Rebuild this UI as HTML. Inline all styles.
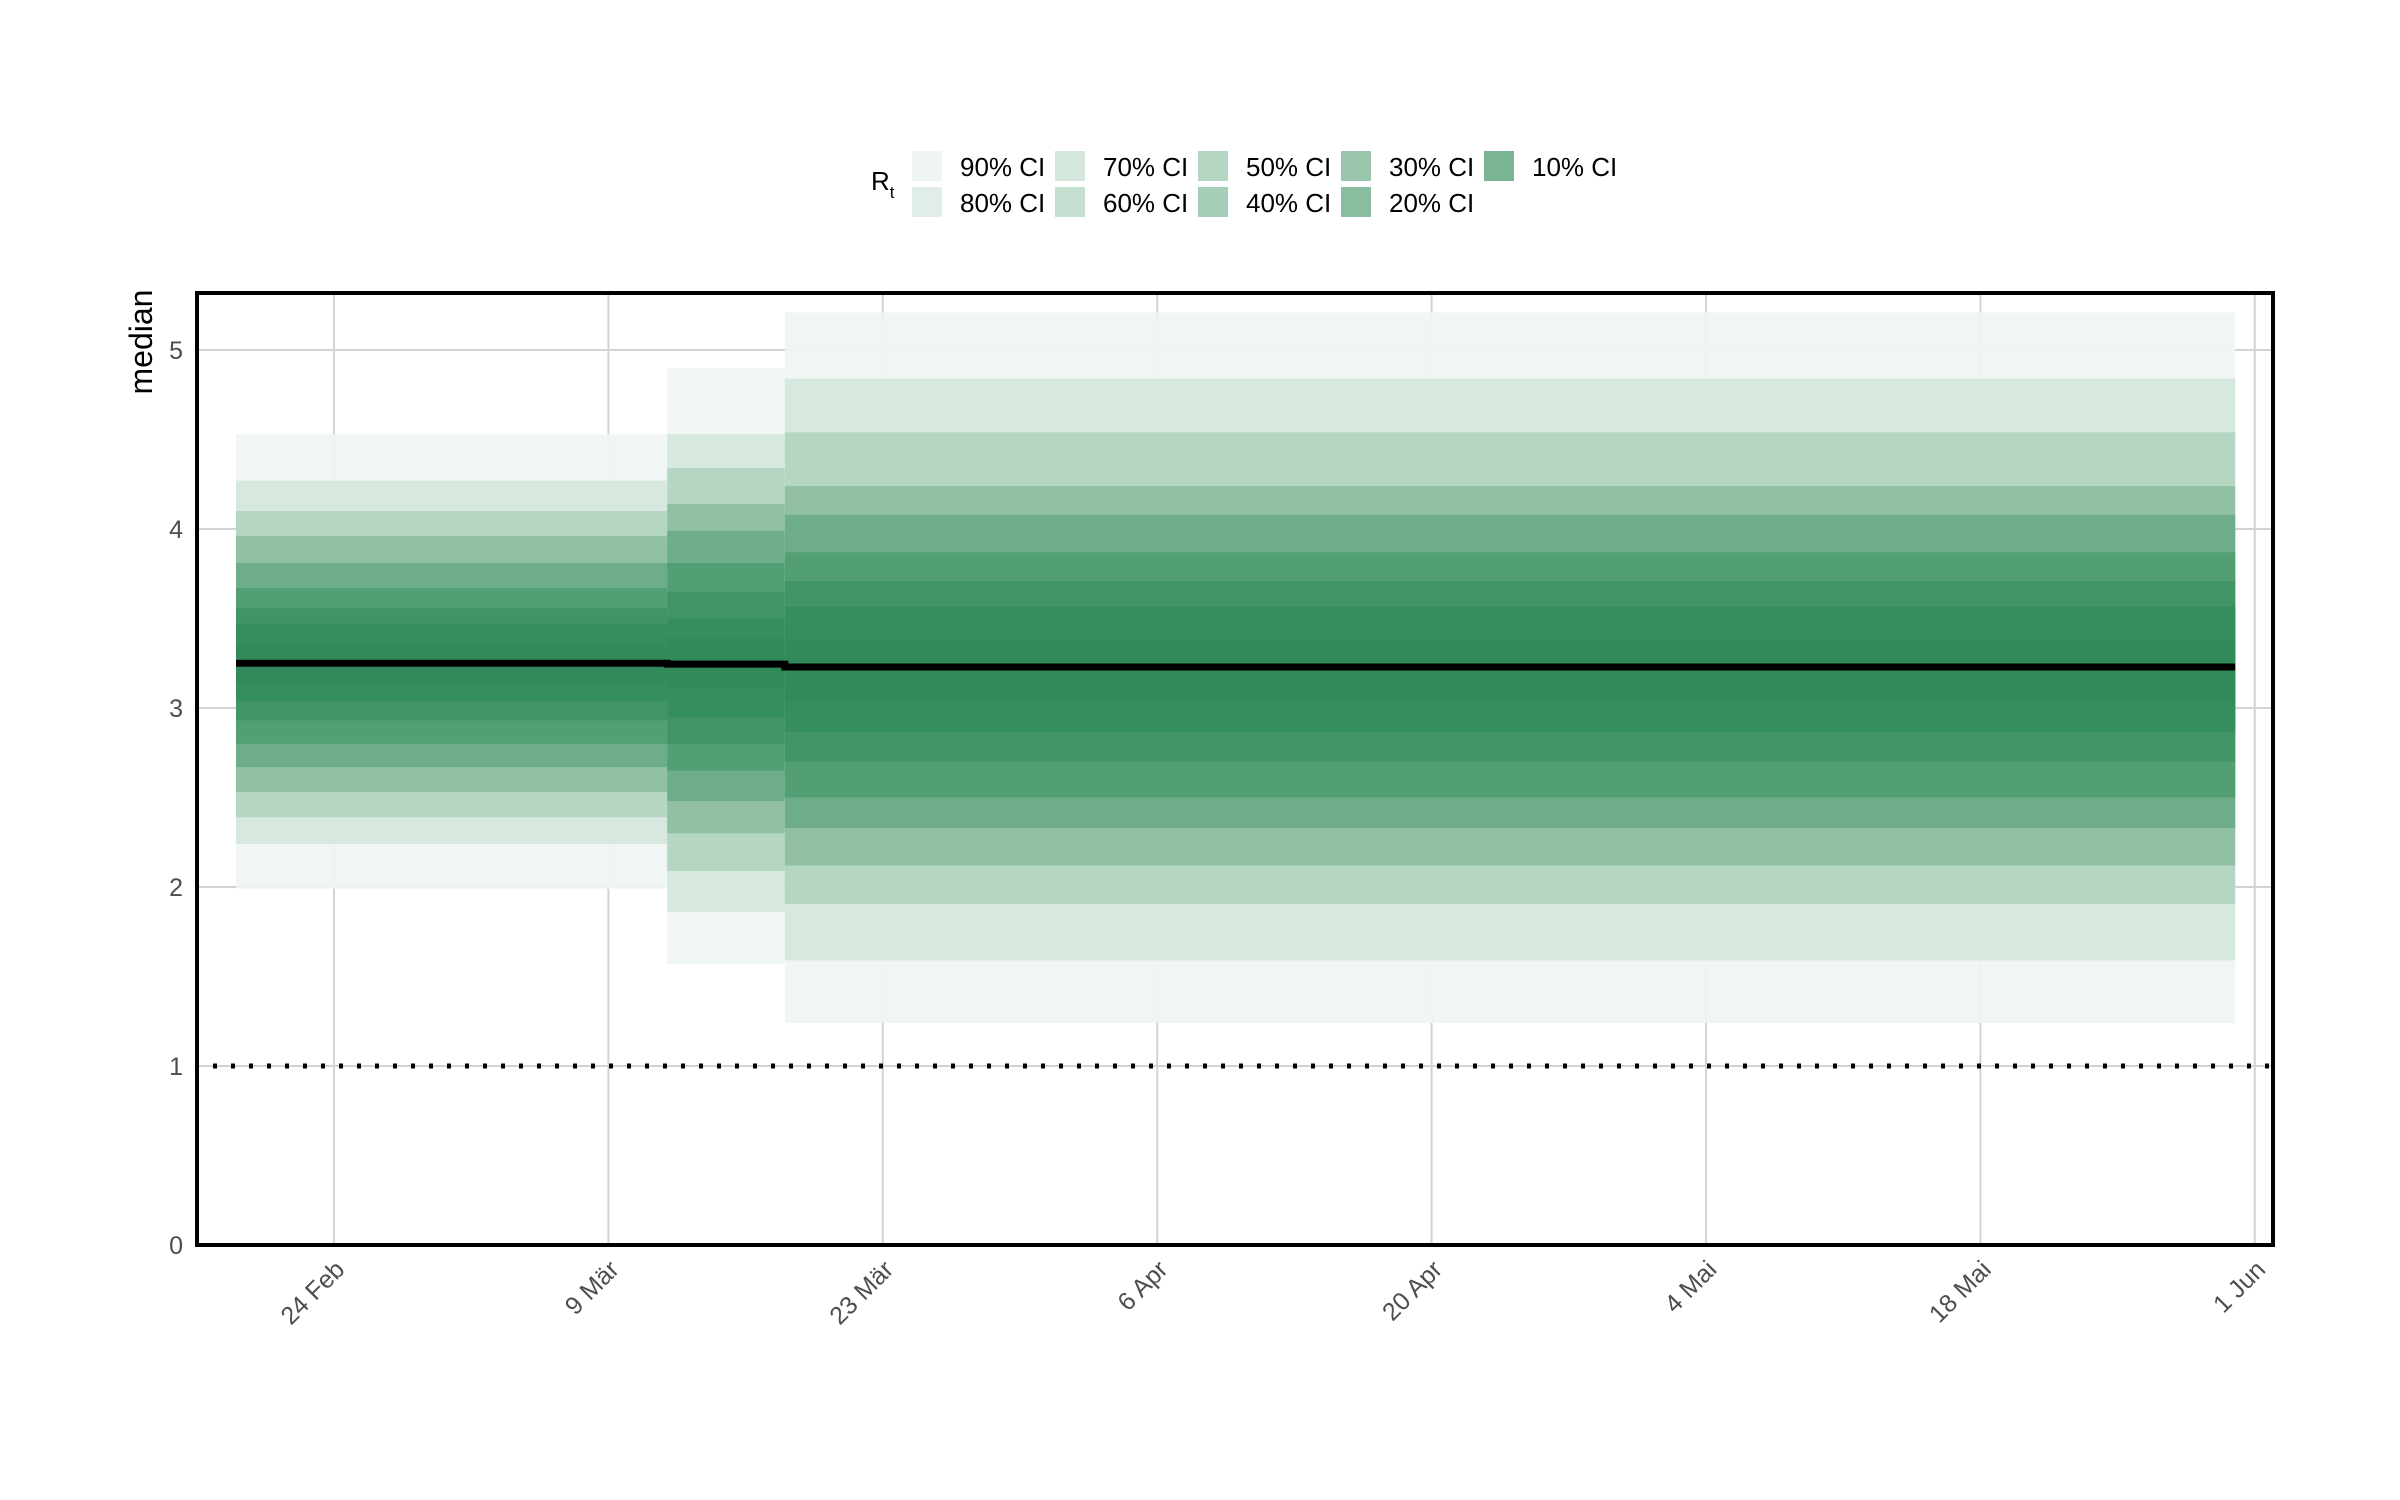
<!DOCTYPE html>
<html><head><meta charset="utf-8"><style>
html,body{margin:0;padding:0;background:#fff;width:2400px;height:1500px;overflow:hidden}
text{font-family:"Liberation Sans Narrow","Liberation Sans",sans-serif}
</style></head><body>
<svg id="chart" width="2400" height="1500" xmlns="http://www.w3.org/2000/svg">
<g id="grid"></g>
<g id="bands"></g>
<g id="overlay"></g>
<g id="axes"></g>
<g id="legend"></g>
</svg>
<script>
// data
const ciLevels = [90,80,70,60,50,40,30,20,10];
const segStart = [-5, 17, 23];   // days relative to 24 Feb
const segEnd = [17, 23, 97];
const segMedian = [3.25, 3.245, 3.229];
const segUpper = [
  [4.53,4.27,4.10,3.96,3.81,3.67,3.56,3.47,3.36],
  [4.90,4.53,4.34,4.14,3.99,3.81,3.65,3.50,3.39],
  [5.21,4.84,4.54,4.24,4.08,3.87,3.71,3.566,3.38]
];
const segLower = [
  [1.99,2.24,2.39,2.53,2.67,2.80,2.93,3.04,3.14],
  [1.57,1.86,2.09,2.30,2.48,2.65,2.80,2.95,3.11],
  [1.24,1.59,1.905,2.12,2.33,2.50,2.70,2.868,3.03]
];
const xTickDays = [0,14,28,42,56,70,84,98];
const xTickLabels = ["24 Feb","9 Mär","23 Mär","6 Apr","20 Apr","4 Mai","18 Mai","1 Jun"];
const yTicks = [0,1,2,3,4,5];
const threshold = 1;
const regionColors = ["#eef5f2","#d5e6dd","#b3d4c1","#8ebf9f","#6bab87","#519e72","#3f9464","#348d5d","#318a5a"];
const legendColors = ["#eef5f2","#e0eee7","#d4e7dc","#c5dfd0","#b3d5c2","#a6cdb7","#9ac6ad","#8abd9f","#7ab593"];

const NS="http://www.w3.org/2000/svg";
const L=197,R=2273,T=293,B=1245;
const X=d=>334+d*19.6;
const Y=v=>1245-179*v;
function mk(tag,attrs,parent){const e=document.createElementNS(NS,tag);for(const k in attrs)e.setAttribute(k,attrs[k]);parent.appendChild(e);return e;}
const grid=document.getElementById('grid'),bands=document.getElementById('bands'),ov=document.getElementById('overlay'),axes=document.getElementById('axes'),leg=document.getElementById('legend');

yTicks.forEach(v=>{
  const l=mk('line',{x1:L,x2:R,y1:Y(v),y2:Y(v),stroke:'#d3d3d3','stroke-width':2},grid);
  
  
  const t=mk('text',{x:L-14,y:Y(v)+9,'text-anchor':'end','font-size':25,fill:'#4d4d4d'},axes);
  t.textContent=v;
  
  
});
xTickDays.forEach((d,i)=>{
  const l=mk('line',{x1:X(d),x2:X(d),y1:T,y2:B,stroke:'#d3d3d3','stroke-width':2},grid);
  
  
  const t=mk('text',{x:X(d)+12,y:B+26,'text-anchor':'end','font-size':25,fill:'#4d4d4d',transform:`rotate(-45 ${X(d)+12} ${B+26})`},axes);
  t.textContent=xTickLabels[i];
  
  
});

segStart.forEach((s,si)=>{
  ciLevels.forEach((lv,ci)=>{
    const y1=Y(segUpper[si][ci]),y2=Y(segLower[si][ci]);
    const r=mk('rect',{x:X(s),y:y1,width:X(segEnd[si])-X(s),height:y2-y1,fill:regionColors[ci],'fill-opacity':0.93},bands);
    
    
  });
});
let d='';
segStart.forEach((s,si)=>{d+=(si?'L':'M')+X(s)+' '+Y(segMedian[si])+' L'+X(segEnd[si])+' '+Y(segMedian[si])+' ';});
const med=mk('path',{d:d,stroke:'#000','stroke-width':7,fill:'none'},ov);


const th=mk('line',{x1:L+16,x2:R,y1:Y(threshold),y2:Y(threshold),stroke:'#000','stroke-width':5,'stroke-dasharray':'4 14'},ov);



const fr=mk('rect',{x:L,y:T,width:R-L,height:B-T,fill:'none',stroke:'#000','stroke-width':4},axes);


const yt=mk('text',{x:152,y:342,'text-anchor':'middle','font-size':32,fill:'#000',transform:'rotate(-90 152 342)'},axes);
yt.textContent='median';



const lt=mk('text',{x:871,y:190,'font-size':26,fill:'#000'},leg);
lt.innerHTML='R<tspan font-size="17" dy="8">t</tspan>';


ciLevels.forEach((lv,i)=>{
  const col=Math.floor(i/2),row=i%2;
  const bx=912+col*143,by=151+row*36;
  const r=mk('rect',{x:bx,y:by,width:30,height:30,fill:legendColors[i]},leg);
  
  
  const t=mk('text',{x:bx+48,y:by+25,'font-size':26,fill:'#000'},leg);
  t.textContent=lv+'% CI';
  
  
});
</script>
</body></html>
